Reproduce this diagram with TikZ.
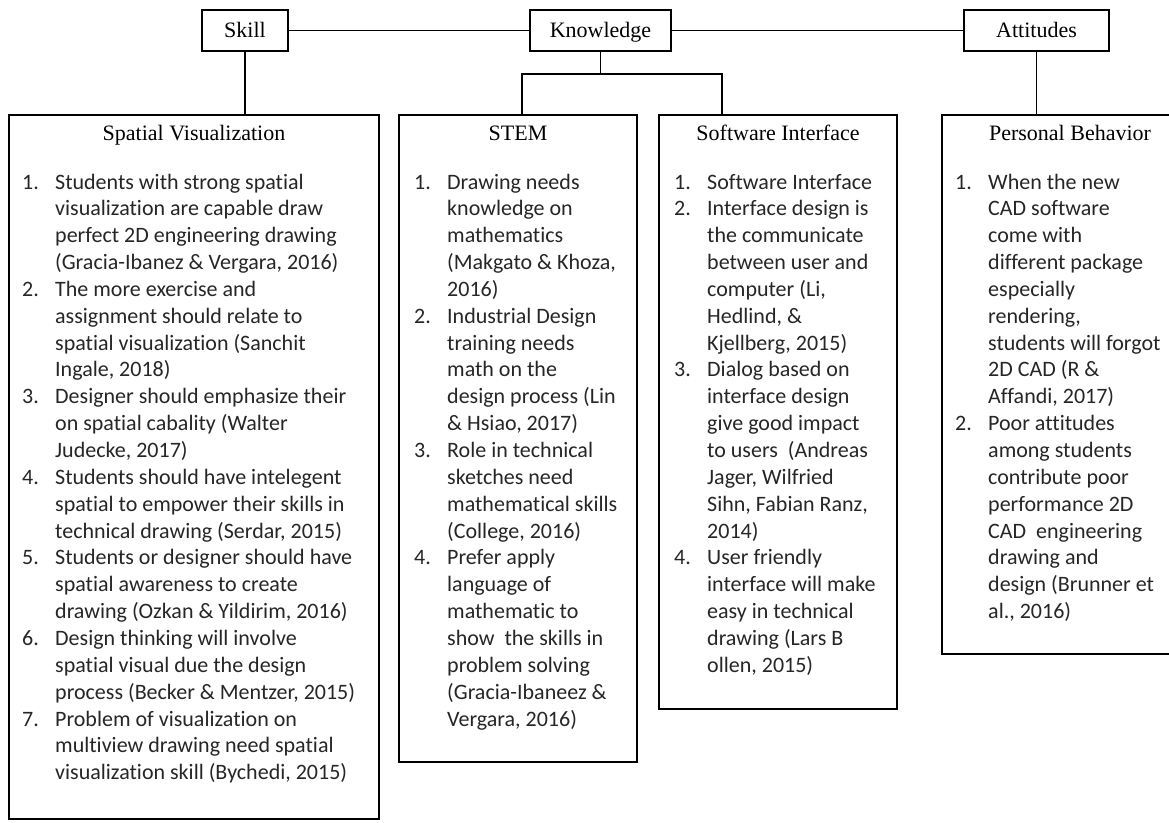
\documentclass[tikz,border=0pt]{standalone}
\usepackage{fontspec}
\setmainfont{Liberation Serif}
\newfontfamily\bodyf[Ligatures={NoCommon}]{Carlito}
\usepackage{array}
\tikzset{
  topbox/.style={draw, line width=1.1pt, minimum height=41pt, inner sep=0pt, text height=17pt, text depth=3.4pt, font=\fontsize{22}{26}\selectfont},
  colbox/.style={draw, line width=1.1pt, inner sep=0pt},
  ttl/.style={inner sep=0pt, font=\fontsize{22}{26}\selectfont},
  lst/.style={inner sep=0pt, text=black!85, font=\bodyf\fontsize{22}{26.85}\selectfont},
  conn/.style={line width=1.1pt}
}
\newcommand{\lstab}[1]{\begin{tabular}[t]{@{}p{33pt}@{}l@{}}#1\end{tabular}}
\begin{document}
\begin{tikzpicture}[x=1pt,y=-1pt]
\useasboundingbox[fill=white] (0,0) rectangle (1169,822);

% top boxes
\node[topbox, minimum width=86pt] (skill) at (245,30.5) {Skill};
\node[topbox, minimum width=141pt] (know) at (600.5,30.5) {Knowledge};
\node[topbox, minimum width=145pt] (att) at (1036.5,30.5) {Attitudes};

% column boxes
\node[colbox, minimum width=370pt, minimum height=704pt] (sv) at (194,467) {};
\node[colbox, minimum width=238pt, minimum height=647pt] (stem) at (518,438.5) {};
\node[colbox, minimum width=238pt, minimum height=594pt] (sw) at (778,412) {};
\node[colbox, minimum width=256pt, minimum height=539pt] (pb) at (1070,384.5) {};

% connectors
\draw[conn] (skill.east) -- (know.west);
\draw[conn] (know.east) -- (att.west);
\draw[conn] (skill.south) -- (skill.south |- sv.north);
\coordinate (kl) at (522,74);
\coordinate (kr) at (722,74);
\draw[conn] (know.south) -- (know.south |- kl);
\draw[conn] (kl |- stem.north) -- (kl) -- (kr) -- (kr |- sw.north);
\draw[conn] (att.south) -- (att.south |- pb.north);

% titles
\node[ttl, anchor=base] (svt) at (194,140) {Spatial Visualization};
\node[ttl, anchor=base] (stemt) at (518,140) {STEM};
\node[ttl, anchor=base] (swt) at (778,140) {Software Interface};
\node[ttl, anchor=base] (pbt) at (1070,140) {Personal Behavior};

% lists
\node[lst, anchor=base west] (svl) at (22,189) {\lstab{
1. & Students with strong spatial\\
   & visualization are capable draw\\
   & perfect 2D engineering drawing\\
   & (Gracia-Ibanez \& Vergara, 2016)\\
2. & The more exercise and\\
   & assignment should relate to\\
   & spatial visualization (Sanchit\\
   & Ingale, 2018)\\
3. & Designer should emphasize their\\
   & on spatial cabality (Walter\\
   & Judecke, 2017)\\
4. & Students should have intelegent\\
   & spatial to empower their skills in\\
   & technical drawing (Serdar, 2015)\\
5. & Students or designer should have\\
   & spatial awareness to create\\
   & drawing (Ozkan \& Yildirim, 2016)\\
6. & Design thinking will involve\\
   & spatial visual due the design\\
   & process (Becker \& Mentzer, 2015)\\
7. & Problem of visualization on\\
   & multiview drawing need spatial\\
   & visualization skill (Bychedi, 2015)
}};

\node[lst, anchor=base west] (steml) at (414,189) {\lstab{
1. & Drawing needs\\
   & knowledge on\\
   & mathematics\\
   & (Makgato \& Khoza,\\
   & 2016)\\
2. & Industrial Design\\
   & training needs\\
   & math on the\\
   & design process (Lin\\
   & \& Hsiao, 2017)\\
3. & Role in technical\\
   & sketches need\\
   & mathematical skills\\
   & (College, 2016)\\
4. & Prefer apply\\
   & language of\\
   & mathematic to\\
   & show\ \ the skills in\\
   & problem solving\\
   & (Gracia-Ibaneez \&\\
   & Vergara, 2016)
}};

\node[lst, anchor=base west] (swl) at (674,189) {\lstab{
1. & Software Interface\\
2. & Interface design is\\
   & the communicate\\
   & between user and\\
   & computer (Li,\\
   & Hedlind, \&\\
   & Kjellberg, 2015)\\
3. & Dialog based on\\
   & interface design\\
   & give good impact\\
   & to users\ \ (Andreas\\
   & Jager, Wilfried\\
   & Sihn, Fabian Ranz,\\
   & 2014)\\
4. & User friendly\\
   & interface will make\\
   & easy in technical\\
   & drawing (Lars B\\
   & ollen, 2015)
}};

\node[lst, anchor=base west] (pbl) at (955,189) {\lstab{
1. & When the new\\
   & CAD software\\
   & come with\\
   & different package\\
   & especially\\
   & rendering,\\
   & students will forgot\\
   & 2D CAD (R \&\\
   & Affandi, 2017)\\
2. & Poor attitudes\\
   & among students\\
   & contribute poor\\
   & performance 2D\\
   & CAD\ \ engineering\\
   & drawing and\\
   & design (Brunner et\\
   & al., 2016)
}};
\end{tikzpicture}
\end{document}
